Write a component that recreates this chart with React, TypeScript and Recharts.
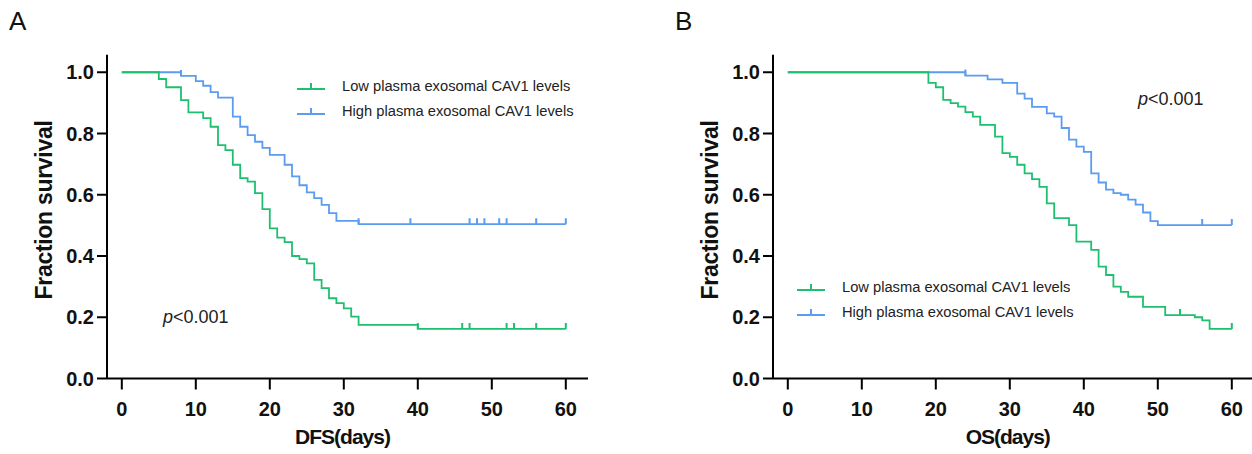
import React from 'react';
import { LineChart, Line, XAxis, YAxis } from 'recharts';

// Colours
const GREEN = '#1fbf70';
const BLUE = '#5a9cf0';
const FONT = '"Liberation Sans", Arial, sans-serif';

const DAY_TICKS = [0, 10, 20, 30, 40, 50, 60];
const SURV_TICKS = [0, 0.2, 0.4, 0.6, 0.8, 1.0];

const LEGEND_LABELS = ['Low plasma exosomal CAV1 levels', 'High plasma exosomal CAV1 levels'];

// Panel A - DFS, low group
const dfsLowT = [0, 5, 6, 8, 9, 11, 12, 13, 14, 15, 16, 17, 18, 19, 20, 21, 22, 23, 24, 25, 26, 27, 28, 29, 30, 31, 32, 40, 60];
const dfsLowS = [1, 0.978, 0.951, 0.909, 0.869, 0.85, 0.822, 0.762, 0.746, 0.698, 0.654, 0.643, 0.605, 0.553, 0.49, 0.46, 0.445, 0.4, 0.39, 0.376, 0.322, 0.295, 0.262, 0.246, 0.229, 0.202, 0.175, 0.162, 0.162];
const dfsLowCensor = [40, 46, 47, 52, 53, 56, 60];

// Panel A - DFS, high group
const dfsHighT = [0, 8, 10, 11, 12, 13, 15, 16, 17, 18, 19, 20, 22, 23, 24, 25, 26, 27, 28, 29, 32, 60];
const dfsHighS = [1, 0.988, 0.971, 0.956, 0.935, 0.917, 0.855, 0.822, 0.795, 0.773, 0.753, 0.73, 0.698, 0.66, 0.631, 0.608, 0.589, 0.567, 0.54, 0.515, 0.504, 0.504];
const dfsHighCensor = [8, 32, 39, 47, 48, 49, 51, 52, 56, 60];

// Panel B - OS, low group
const osLowT = [0, 19, 20, 21, 22, 23, 24, 25, 26, 28, 29, 30, 31, 32, 33, 34, 35, 36, 38, 39, 41, 42, 43, 44, 45, 46, 48, 51, 55, 56, 57, 60];
const osLowS = [1, 0.965, 0.951, 0.91, 0.899, 0.888, 0.87, 0.855, 0.828, 0.79, 0.736, 0.724, 0.698, 0.67, 0.651, 0.626, 0.572, 0.524, 0.501, 0.447, 0.42, 0.365, 0.338, 0.3, 0.283, 0.267, 0.234, 0.207, 0.2, 0.19, 0.162, 0.162];
const osLowCensor = [53, 60];

// Panel B - OS, high group
const osHighT = [0, 24, 27, 29, 31, 32, 33, 35, 36, 37, 38, 39, 40, 41, 42, 43, 44, 45, 46, 47, 48, 49, 50, 60];
const osHighS = [1, 0.989, 0.977, 0.965, 0.93, 0.914, 0.887, 0.866, 0.855, 0.818, 0.78, 0.757, 0.74, 0.67, 0.64, 0.617, 0.605, 0.6, 0.584, 0.568, 0.542, 0.514, 0.501, 0.501];
const osHighCensor = [24, 56, 60];

type Pt = { t: number; s: number; c: boolean };

// merge step points with censor marks (survival at a censor time = current step level)
function buildCurve(times: number[], surv: number[], censor: number[]): Pt[] {
  const pts: Pt[] = times.map((t, i) => ({ t, s: surv[i], c: false }));
  censor.forEach(ct => {
    const hit = pts.find(p => p.t === ct);
    if (hit) {
      hit.c = true;
      return;
    }
    let s = surv[0];
    times.forEach((t, i) => {
      if (t <= ct) s = surv[i];
    });
    pts.push({ t: ct, s, c: true });
  });
  return pts.sort((a, b) => a.t - b.t);
}

function censorDot(color: string) {
  return (props: any) => {
    const { cx, cy, payload, index } = props;
    if (!payload?.c) return <g key={`n-${index}`} />;
    return <line key={`c-${index}`} x1={cx} y1={cy} x2={cx} y2={cy - 6} stroke={color} strokeWidth={2} />;
  };
}

function LegendKey({ color }: { color: string }) {
  return (
    <svg width={28} height={12} style={{ display: 'block' }}>
      <line x1={0} y1={9} x2={28} y2={9} stroke={color} strokeWidth={2} />
      <line x1={14} y1={9} x2={14} y2={3} stroke={color} strokeWidth={2} />
    </svg>
  );
}

interface PanelProps {
  letter: string;
  left: number;
  width: number;
  xMax: number;
  xTitle: string;
  low: Pt[];
  high: Pt[];
  legendX: number;
  legendY: number;
  pX: number;
  pY: number;
}

function Panel({ letter, left, width, xMax, xTitle, low, high, legendX, legendY, pX, pY }: PanelProps) {
  const plotW = (xMax + 2) * 7.4;
  return (
    <div style={{ position: 'absolute', left, top: 0, width, height: 454 }}>
      <div style={{ position: 'absolute', left: 9, top: 6, fontSize: 26, fontFamily: FONT, color: '#111' }}>{letter}</div>
      <LineChart
        width={width}
        height={454}
        margin={{ top: 54.8, right: width - 107 - plotW, left: 0, bottom: 0 }}
      >
        <XAxis
          type="number"
          dataKey="t"
          domain={[-2, xMax]}
          ticks={DAY_TICKS}
          allowDataOverflow
          height={75.5}
          axisLine={{ stroke: '#000', strokeWidth: 2 }}
          tickLine={{ stroke: '#000', strokeWidth: 2 }}
          tickSize={11}
          tickMargin={12}
          tick={{ fill: '#111', fontSize: 20, fontWeight: 700, fontFamily: FONT }}
        />
        <YAxis
          type="number"
          domain={[0, 1.057]}
          ticks={SURV_TICKS}
          allowDataOverflow
          width={107}
          axisLine={{ stroke: '#000', strokeWidth: 2 }}
          tickLine={{ stroke: '#000', strokeWidth: 2 }}
          tickSize={10}
          tickMargin={3}
          tickFormatter={(v: number) => v.toFixed(1)}
          tick={{ fill: '#111', fontSize: 20, fontWeight: 700, fontFamily: FONT }}
        />
        <Line
          data={high}
          dataKey="s"
          type="stepAfter"
          stroke={BLUE}
          strokeWidth={1.8}
          dot={censorDot(BLUE)}
          activeDot={false}
          isAnimationActive={false}
        />
        <Line
          data={low}
          dataKey="s"
          type="stepAfter"
          stroke={GREEN}
          strokeWidth={1.8}
          dot={censorDot(GREEN)}
          activeDot={false}
          isAnimationActive={false}
        />
      </LineChart>
      <div
        style={{
          position: 'absolute',
          left: 44,
          top: 210,
          transform: 'translate(-50%, -50%) rotate(-90deg)',
          whiteSpace: 'nowrap',
          fontFamily: FONT,
          fontWeight: 700,
          fontSize: 23,
          letterSpacing: -0.3,
          color: '#111',
        }}
      >
        Fraction survival
      </div>
      <div
        style={{
          position: 'absolute',
          left: 107 + plotW / 2 - 5,
          top: 437,
          transform: 'translate(-50%, -50%)',
          whiteSpace: 'nowrap',
          fontFamily: FONT,
          fontWeight: 700,
          fontSize: 21,
          letterSpacing: -1,
          color: '#111',
        }}
      >
        {xTitle}
      </div>
      <div style={{ position: 'absolute', left: legendX, top: legendY, fontFamily: FONT, fontSize: 14.7, color: '#222' }}>
        {LEGEND_LABELS.map((lab, i) => (
          <div key={lab} style={{ display: 'flex', alignItems: 'center', height: 25 }}>
            <LegendKey color={i === 0 ? GREEN : BLUE} />
            <span style={{ marginLeft: 17, whiteSpace: 'nowrap' }}>{lab}</span>
          </div>
        ))}
      </div>
      <div style={{ position: 'absolute', left: pX, top: pY, fontFamily: FONT, fontSize: 18, color: '#222', whiteSpace: 'nowrap' }}>
        <i>p</i>&lt;0.001
      </div>
    </div>
  );
}

export default function App() {
  const dfsLow = buildCurve(dfsLowT, dfsLowS, dfsLowCensor);
  const dfsHigh = buildCurve(dfsHighT, dfsHighS, dfsHighCensor);
  const osLow = buildCurve(osLowT, osLowS, osLowCensor);
  const osHigh = buildCurve(osHighT, osHighS, osHighCensor);

  return (
    <div style={{ position: 'absolute', left: 0, top: 0, width: 1252, height: 454, background: '#fff', overflow: 'hidden' }}>
      <Panel
        letter="A"
        left={0}
        width={600}
        xMax={63}
        xTitle="DFS(days)"
        low={dfsLow}
        high={dfsHigh}
        legendX={297}
        legendY={73}
        pX={163}
        pY={307}
      />
      <Panel
        letter="B"
        left={666}
        width={586}
        xMax={62.8}
        xTitle="OS(days)"
        low={osLow}
        high={osHigh}
        legendX={131}
        legendY={274}
        pX={472}
        pY={89}
      />
    </div>
  );
}
